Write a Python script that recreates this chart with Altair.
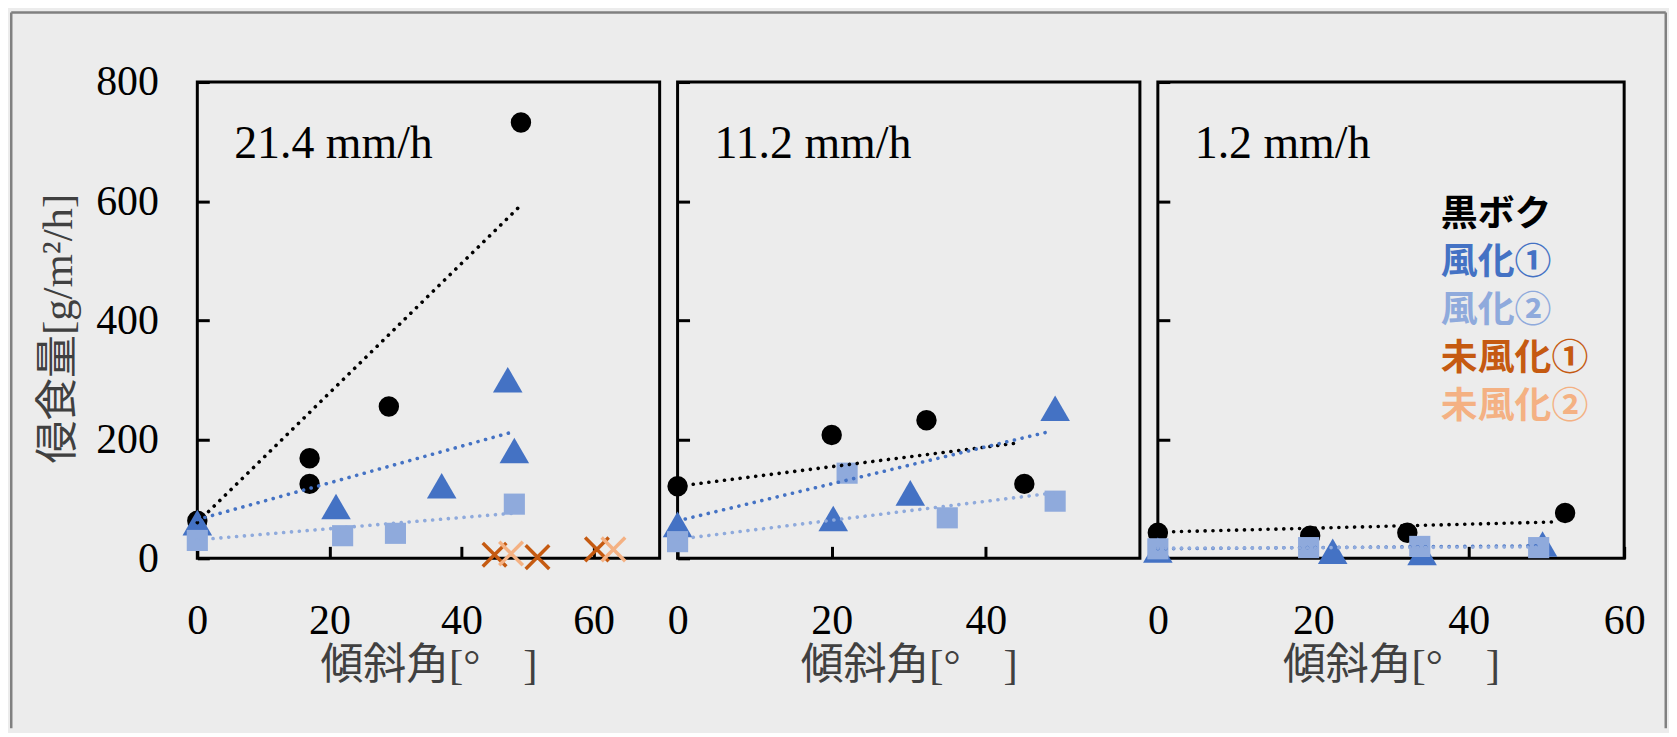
import altair as alt
import pandas as pd

# ---------------- data ----------------
SERIES = ["黒ボク", "風化①", "風化②", "未風化①", "未風化②"]
RAIN = ["21.4 mm/h", "11.2 mm/h", "1.2 mm/h"]
X_MAX = [70, 60, 60]
X_TICKS = [[0, 20, 40, 60], [0, 20, 40], [0, 20, 40, 60]]
Y_TICKS = [0, 200, 400, 600, 800]
X_TITLE = "傾斜角[°　]"
Y_TITLE = "侵食量[g/m²/h]"

# panel 1 : 21.4 mm/h
p1_kuro_x = [0, 17, 17, 29, 49]
p1_kuro_y = [63, 168, 125, 255, 732]
p1_f1_x = [0, 21, 37, 47, 48]
p1_f1_y = [60, 87, 122, 300, 181]
p1_f2_x = [0, 22, 30, 48]
p1_f2_y = [30, 38, 42, 91]
p1_mf1_x = [45, 51.5, 60.5]
p1_mf1_y = [6, 2, 15]
p1_mf2_x = [47.5, 63]
p1_mf2_y = [8, 15]
# trendlines [x start, y start, x end, y end] for 黒ボク, 風化①, 風化②
p1_tr_kuro = [0, 60, 48.7, 590]
p1_tr_f1 = [0, 65, 48, 213]
p1_tr_f2 = [0, 31, 48, 76]

# panel 2 : 11.2 mm/h
p2_kuro_x = [0, 20, 32.3, 45]
p2_kuro_y = [121, 207, 232, 125]
p2_f1_x = [0, 20.2, 30.2, 49]
p2_f1_y = [57, 67, 110, 252]
p2_f2_x = [0, 22, 35, 49]
p2_f2_y = [28, 143, 68, 96]
p2_tr_kuro = [0, 121, 44.3, 194]
p2_tr_f1 = [0, 63, 48.3, 213]
p2_tr_f2 = [0, 32, 48.9, 110]

# panel 3 : 1.2 mm/h
p3_kuro_x = [0, 19.6, 32.1, 52.4]
p3_kuro_y = [43, 38, 43, 76]
p3_f1_x = [0, 22.5, 34, 49.5]
p3_f1_y = [14, 12, 10, 24]
p3_f2_x = [0, 19.4, 33.7, 49]
p3_f2_y = [16, 18, 20, 18]
p3_tr_kuro = [0, 44, 50.8, 61]
p3_tr_f1 = [0, 16, 49, 21]
p3_tr_f2 = [0, 17, 49, 19]

# ---------------- styling ----------------
COLORS = ["#000000", "#4472C4", "#8FAADC", "#C55A11", "#F4B183"]
XPATH = "M-1,-1L1,1M1,-1L-1,1"
MARKS = [  # shape, size, filled
    ("circle", 420, True),
    ("triangle-up", 880, True),
    ("square", 450, True),
    (XPATH, 560, False),
    (XPATH, 560, False),
]
SERIF = "Liberation Serif"
MIXED = "Liberation Serif, Noto Sans CJK JP"
GOTHIC = "Noto Sans CJK JP"
WIDTHS = [464, 464, 468]
HEIGHT = 478
BG = "#ECECEC"


def points_df(groups):
    rows = []
    for name, xs, ys in groups:
        for x, y in zip(xs, ys):
            rows.append({"x": x, "y": y, "s": name})
    return pd.DataFrame(rows)


def trend_df(groups):
    rows = []
    for name, t in groups:
        rows.append({"x": t[0], "y": t[1], "x2": t[2], "y2": t[3], "s": name})
    return pd.DataFrame(rows)


pts = [
    points_df([(SERIES[0], p1_kuro_x, p1_kuro_y), (SERIES[1], p1_f1_x, p1_f1_y),
               (SERIES[2], p1_f2_x, p1_f2_y), (SERIES[3], p1_mf1_x, p1_mf1_y),
               (SERIES[4], p1_mf2_x, p1_mf2_y)]),
    points_df([(SERIES[0], p2_kuro_x, p2_kuro_y), (SERIES[1], p2_f1_x, p2_f1_y),
               (SERIES[2], p2_f2_x, p2_f2_y)]),
    points_df([(SERIES[0], p3_kuro_x, p3_kuro_y), (SERIES[1], p3_f1_x, p3_f1_y),
               (SERIES[2], p3_f2_x, p3_f2_y)]),
]
trends = [
    trend_df([(SERIES[0], p1_tr_kuro), (SERIES[1], p1_tr_f1), (SERIES[2], p1_tr_f2)]),
    trend_df([(SERIES[0], p2_tr_kuro), (SERIES[1], p2_tr_f1), (SERIES[2], p2_tr_f2)]),
    trend_df([(SERIES[0], p3_tr_kuro), (SERIES[1], p3_tr_f1), (SERIES[2], p3_tr_f2)]),
]

color_scale = alt.Scale(domain=SERIES, range=COLORS)


def make_panel(i):
    W = WIDTHS[i]
    xscale = alt.Scale(domain=[0, X_MAX[i]], nice=False, zero=False)
    yscale = alt.Scale(domain=[0, 800], nice=False, zero=False)
    xaxis = alt.Axis(
        values=X_TICKS[i], offset=-12, tickSize=12, tickWidth=3, tickColor="black",
        domain=False, grid=False, labelFont=SERIF, labelFontSize=42, labelColor="black",
        labelPadding=42, labelFlush=False, labelOverlap=False,
        title=X_TITLE, titleFont=MIXED, titleFontSize=43, titleFontWeight="normal",
        titleColor="#404040", titleBaseline="alphabetic", titleAlign="center",
        titleX=W / 2, titleY=133,
    )
    if i == 0:
        yaxis = alt.Axis(
            values=Y_TICKS, offset=-12, tickSize=12, tickWidth=3, tickColor="black",
            domain=False, grid=False, labelFont=SERIF, labelFontSize=42,
            labelColor="black", labelPadding=39, labelFlush=False, labelOverlap=False,
            title=Y_TITLE, titleFont=MIXED, titleFontSize=43, titleFontWeight="normal",
            titleColor="#404040", titleBaseline="alphabetic", titleAlign="center",
            titleAngle=270, titleX=-138, titleY=247,
        )
    else:
        yaxis = alt.Axis(
            values=Y_TICKS, offset=-12, tickSize=12, tickWidth=3, tickColor="black",
            domain=False, grid=False, labels=False, title=None,
        )

    df = pts[i]
    layers = []
    first = True
    for k, name in enumerate(SERIES):
        sub = df[df["s"] == name]
        if not len(sub):
            continue
        shape, size, filled = MARKS[k]
        if filled:
            mark = alt.Chart(sub).mark_point(
                filled=True, shape=shape, size=size, opacity=1, strokeWidth=0,
                color=COLORS[k])
        else:
            mark = alt.Chart(sub).mark_point(
                filled=False, shape=shape, size=size, opacity=1, strokeWidth=3.5,
                color=COLORS[k])
        if first:
            enc = dict(x=alt.X("x:Q", scale=xscale, axis=xaxis),
                       y=alt.Y("y:Q", scale=yscale, axis=yaxis))
            first = False
        else:
            enc = dict(x="x:Q", y="y:Q")
        layers.append(mark.encode(**enc))

    layers.append(
        alt.Chart(trends[i]).mark_rule(
            strokeDash=[0.1, 7.8], strokeCap="round", strokeWidth=3.6
        ).encode(
            x="x:Q", y="y:Q", x2="x2:Q", y2="y2:Q",
            color=alt.Color("s:N", scale=color_scale, legend=None),
        )
    )
    layers.append(
        alt.Chart(alt.Data(values=[{"t": RAIN[i]}])).mark_text(
            align="left", baseline="alphabetic", font=SERIF, fontSize=46, color="black"
        ).encode(text="t:N", x=alt.value(37), y=alt.value(76))
    )
    if i == 2:
        for k, name in enumerate(SERIES):
            layers.append(
                alt.Chart(alt.Data(values=[{"t": name}])).mark_text(
                    align="left", baseline="middle", font=GOTHIC, fontSize=37,
                    fontWeight="bold", color=COLORS[k]
                ).encode(text="t:N", x=alt.value(284), y=alt.value(133 + k * 48.3))
            )
    if i == 0:
        one = alt.Data(values=[{}])
        frame = dict(color="#808080", strokeWidth=2.5)
        layers.append(alt.Chart(one).mark_rule(**frame).encode(
            x=alt.value(-186.75), y=alt.value(-69.75), y2=alt.value(648.5)))
        layers.append(alt.Chart(one).mark_rule(**frame).encode(
            x=alt.value(-186.75), x2=alt.value(1473.75), y=alt.value(-69.75)))
        layers.append(alt.Chart(one).mark_rule(**frame).encode(
            x=alt.value(1473.75), y=alt.value(-69.75), y2=alt.value(648.5)))
    return alt.layer(*layers).properties(width=W, height=HEIGHT)


chart = (
    alt.hconcat(make_panel(0), make_panel(1), make_panel(2), spacing=18, bounds="flush")
    .resolve_scale(x="independent", y="independent")
    .properties(background=BG, padding={"left": 0, "top": 0, "right": 0, "bottom": 0})
    .configure_view(stroke="black", strokeWidth=3)
)

chart.save("out.html", embed_options={"renderer": "svg", "actions": False})
